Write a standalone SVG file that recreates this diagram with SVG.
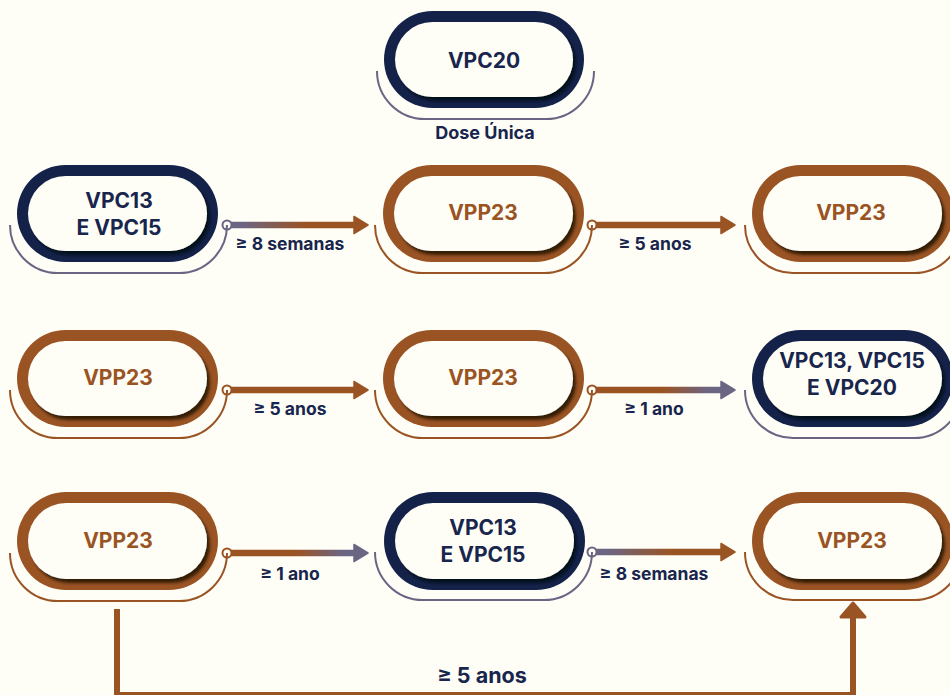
<svg xmlns="http://www.w3.org/2000/svg" width="950" height="695" viewBox="0 0 950 695">
<style>
.bg{fill:#fefef7}
.ring-b{fill:#9a5424}
.ring-n{fill:#14224a}
.inner-b{fill:#fefef7;filter:url(#shB)}
.inner-n{fill:#fefef7;filter:url(#shN)}
.arc-b{fill:none;stroke:#9a5424;stroke-width:2}
.arc-n{fill:none;stroke:#6b6584;stroke-width:2}
.t{font-family:Inter,"Open Sans","Liberation Sans",sans-serif;font-weight:700;font-size:21px;text-anchor:middle}
.tb{fill:#9a5424}
.tn{fill:#18254c}
.lbl{font-family:Inter,"Open Sans","Liberation Sans",sans-serif;font-weight:700;font-size:17.5px;fill:#18254c;text-anchor:middle}
.dot-b{fill:#fefef7;stroke:#9a5424;stroke-width:2}
.dot-n{fill:#fefef7;stroke:#6b6584;stroke-width:2}
.line{fill:none;stroke:#9a5424;stroke-width:6}
</style>
<defs>
<filter id="shB" x="-10%" y="-20%" width="120%" height="140%">
<feDropShadow dx="3" dy="4" stdDeviation="1.6" flood-color="#2a1306" flood-opacity="0.9"/>
</filter>
<filter id="shN" x="-10%" y="-20%" width="120%" height="140%">
<feDropShadow dx="3" dy="4" stdDeviation="1.6" flood-color="#050a18" flood-opacity="0.9"/>
</filter>
<linearGradient id="gNB" x1="0" y1="0" x2="1" y2="0">
<stop offset="0.1" stop-color="#6b6584"/><stop offset="0.55" stop-color="#9a5424"/>
</linearGradient>
<linearGradient id="gBN" x1="0" y1="0" x2="1" y2="0">
<stop offset="0.5" stop-color="#9a5424"/><stop offset="0.82" stop-color="#6b6584"/>
</linearGradient>
</defs>
<rect class="bg" x="0" y="0" width="950" height="695"/>

<g id="connectors">
<path d="M227,222.5 H354 V216.5 L368,225 L354,233.5 V227.5 H227 Z" fill="url(#gNB)" stroke="url(#gNB)" stroke-width="1.5" stroke-linejoin="round"/>
<circle class="dot-n" cx="227" cy="225" r="4.5"/>
<path d="M592,222.5 H721 V216.5 L735,225 L721,233.5 V227.5 H592 Z" fill="#9a5424" stroke="#9a5424" stroke-width="1.5" stroke-linejoin="round"/>
<circle class="dot-b" cx="592" cy="225" r="4.5"/>

<path d="M227,387.5 H354 V381.5 L368,390 L354,398.5 V392.5 H227 Z" fill="#9a5424" stroke="#9a5424" stroke-width="1.5" stroke-linejoin="round"/>
<circle class="dot-b" cx="227" cy="390" r="4.5"/>
<path d="M592,387.5 H721 V381.5 L735,390 L721,398.5 V392.5 H592 Z" fill="url(#gBN)" stroke="url(#gBN)" stroke-width="1.5" stroke-linejoin="round"/>
<circle class="dot-b" cx="592" cy="390" r="4.5"/>

<path d="M227,550.5 H354 V544.5 L368,553 L354,561.5 V555.5 H227 Z" fill="url(#gBN)" stroke="url(#gBN)" stroke-width="1.5" stroke-linejoin="round"/>
<circle class="dot-b" cx="227" cy="553" r="4.5"/>
<path d="M592,549.5 H721 V543.5 L735,552 L721,560.5 V554.5 H592 Z" fill="url(#gNB)" stroke="url(#gNB)" stroke-width="1.5" stroke-linejoin="round"/>
<circle class="dot-n" cx="592" cy="552" r="4.5"/>

<path class="line" d="M117,609 V695 H853 V612"/>
<path d="M841,617 L853,603 L865,617 Z" fill="#9a5424" stroke="#9a5424" stroke-width="3" stroke-linejoin="round"/>

<text class="lbl" x="290" y="250">≥ 8 semanas</text>
<text class="lbl" x="655" y="250">≥ 5 anos</text>
<text class="lbl" x="290" y="415">≥ 5 anos</text>
<text class="lbl" x="654" y="415">≥ 1 ano</text>
<text class="lbl" x="290" y="580">≥ 1 ano</text>
<text class="lbl" x="654" y="580">≥ 8 semanas</text>
<text class="lbl" x="482" y="683" style="font-size:21.5px">≥ 5 anos</text>
</g>

<g id="n-vpc20">
<path class="arc-n" d="M377,71 A48,48 0 0 0 425,119 H546 A48,48 0 0 0 594,71"/>
<rect class="ring-n" x="384" y="11" width="200" height="97" rx="48.5"/>
<rect class="inner-n" x="395" y="22" width="178" height="75" rx="37.5"/>
<text class="t tn" x="484" y="67.5">VPC20</text>
<text class="lbl" x="485" y="139" style="font-size:18px">Dose Única</text>
</g>

<g id="n-r1a">
<path class="arc-n" d="M10,225 A48,48 0 0 0 58,273 H179 A48,48 0 0 0 227,225"/>
<rect class="ring-n" x="17" y="165" width="201" height="97" rx="48.5"/>
<rect class="inner-n" x="28" y="176" width="179" height="75" rx="37.5"/>
<text class="t tn" x="119" y="208">VPC13</text>
<text class="t tn" x="119" y="235">E VPC15</text>
</g>

<g id="n-r1b">
<path class="arc-b" d="M375,225 A48,48 0 0 0 423,273 H544 A48,48 0 0 0 592,225"/>
<rect class="ring-b" x="383" y="165" width="201" height="97" rx="48.5"/>
<rect class="inner-b" x="394" y="176" width="179" height="75" rx="37.5"/>
<text class="t tb" x="483" y="220">VPP23</text>
</g>

<g id="n-r1c">
<path class="arc-b" d="M745,225 A48,48 0 0 0 793,273 H914 A48,48 0 0 0 962,225"/>
<rect class="ring-b" x="752" y="165" width="201" height="97" rx="48.5"/>
<rect class="inner-b" x="763" y="176" width="179" height="75" rx="37.5"/>
<text class="t tb" x="851" y="220">VPP23</text>
</g>

<g id="n-r2a">
<path class="arc-b" d="M10,390 A48,48 0 0 0 58,438 H179 A48,48 0 0 0 227,390"/>
<rect class="ring-b" x="17" y="330" width="201" height="97" rx="48.5"/>
<rect class="inner-b" x="28" y="341" width="179" height="75" rx="37.5"/>
<text class="t tb" x="118" y="385">VPP23</text>
</g>

<g id="n-r2b">
<path class="arc-b" d="M375,390 A48,48 0 0 0 423,438 H544 A48,48 0 0 0 592,390"/>
<rect class="ring-b" x="383" y="330" width="201" height="97" rx="48.5"/>
<rect class="inner-b" x="394" y="341" width="179" height="75" rx="37.5"/>
<text class="t tb" x="483" y="385">VPP23</text>
</g>

<g id="n-r2c">
<path class="arc-n" d="M745,390 A48,48 0 0 0 793,438 H914 A48,48 0 0 0 962,390"/>
<rect class="ring-n" x="752" y="330" width="201" height="97" rx="48.5"/>
<rect class="inner-n" x="763" y="341" width="179" height="75" rx="37.5"/>
<text class="t tn" x="852" y="368">VPC13, VPC15</text>
<text class="t tn" x="852" y="395">E VPC20</text>
</g>

<g id="n-r3a">
<path class="arc-b" d="M10,553 A48,48 0 0 0 58,601 H179 A48,48 0 0 0 227,553"/>
<rect class="ring-b" x="17" y="492" width="201" height="98" rx="49"/>
<rect class="inner-b" x="28" y="503" width="179" height="76" rx="38"/>
<text class="t tb" x="118" y="548">VPP23</text>
</g>

<g id="n-r3b">
<path class="arc-n" d="M375,552 A48,48 0 0 0 423,600 H544 A48,48 0 0 0 592,552"/>
<rect class="ring-n" x="384" y="492" width="201" height="98" rx="49"/>
<rect class="inner-n" x="395" y="503" width="179" height="76" rx="38"/>
<text class="t tn" x="483" y="535">VPC13</text>
<text class="t tn" x="483" y="562">E VPC15</text>
</g>

<g id="n-r3c">
<path class="arc-b" d="M745,552 A48,48 0 0 0 793,600 H914 A48,48 0 0 0 962,552"/>
<rect class="ring-b" x="752" y="492" width="201" height="98" rx="49"/>
<rect class="inner-b" x="763" y="503" width="179" height="76" rx="38"/>
<text class="t tb" x="852" y="548">VPP23</text>
</g>
</svg>
